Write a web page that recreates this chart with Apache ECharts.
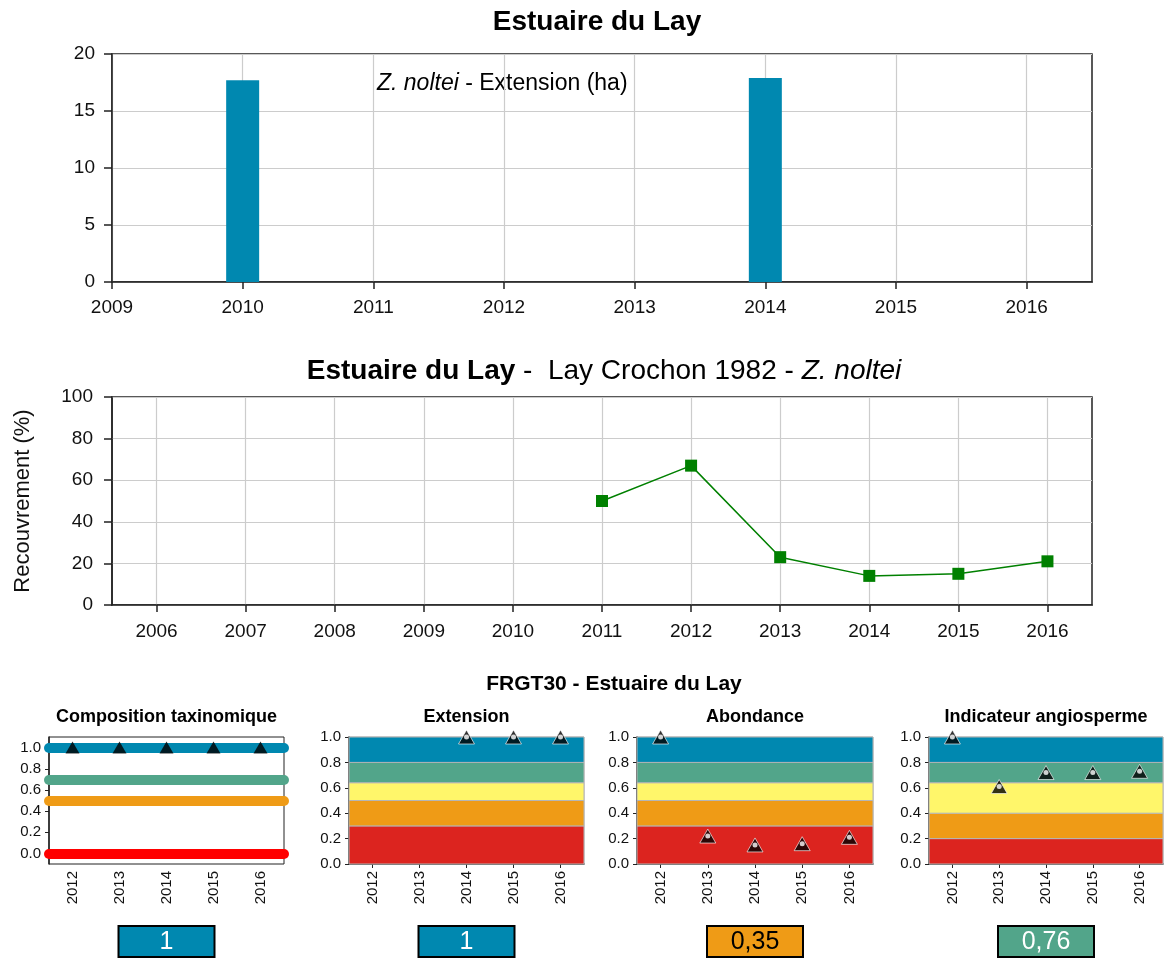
<!DOCTYPE html>
<html>
<head>
<meta charset="utf-8">
<title>Estuaire du Lay</title>
<script src="https://cdn.jsdelivr.net/npm/echarts@6/dist/echarts.min.js"></script>
<style>
  html, body { margin: 0; padding: 0; background: #fff; }
  #chart { width: 1164px; height: 958px; }
</style>
</head>
<body>
<div id="chart"></div>
<script>
// Z. noltei - Extension (ha)
const extYears = [2010, 2014]
const extValues = [17.7, 17.9]
const extTicks = [2009, 2010, 2011, 2012, 2013, 2014, 2015, 2016]

// Lay Crochon 1982 - Recouvrement (%)
const coverYears = [2006, 2007, 2008, 2009, 2010, 2011, 2012, 2013, 2014, 2015, 2016]
const coverValues = [null, null, null, null, null, 50, 67, 23, 14, 15, 21]

// FRGT30 - indicateurs
const panelYears = ['2012', '2013', '2014', '2015', '2016']
const panelTitles = ['Composition taxinomique', 'Extension', 'Abondance', 'Indicateur angiosperme']
const compoValues = [1, 1, 1, 1, 1]
const compoThresholds = [1.0, 0.7, 0.5, 0.0]
const extensionValues = [null, null, 1, 1, 1]
const abondanceValues = [1, 0.22, 0.15, 0.16, 0.21]
const angioValues = [1, 0.61, 0.72, 0.72, 0.73]
const bandLimits = [0, 0.3, 0.5, 0.64, 0.8, 1]
const angioBandLimits = [0, 0.2, 0.4, 0.64, 0.8, 1]
const panelTicks = [0, 0.2, 0.4, 0.6, 0.8, 1.0]
const boxLabels = ['1', '1', '0,35', '0,76']

const FONT = '"Liberation Sans", Arial, sans-serif'
const BLUE = '#0088b0'
const TEAL = '#52a58a'
const YELLOW = '#fff66a'
const ORANGE = '#ef9b16'
const RED = '#dc241f'
const bandColors = [RED, ORANGE, YELLOW, TEAL, BLUE]
const compoColors = [BLUE, TEAL, ORANGE, '#ff0000']
const boxColors = [BLUE, BLUE, ORANGE, TEAL]
const boxTextColors = ['#fff', '#fff', '#000', '#fff']
const AXIS = '#222'
const GRIDLINE = '#cccccc'

// positions des 4 petits panneaux
const panels = [
  { left: 49, width: 235 },
  { left: 349, width: 235 },
  { left: 637, width: 236 },
  { left: 929, width: 234 }
]
const panelTop = 737
const panelHeight = 127

const chart = echarts.init(document.getElementById('chart'), null, { renderer: 'canvas' })

const bigGridBase = { containLabel: false, outerBoundsMode: 'none', show: true, borderColor: AXIS, borderWidth: 1.5 }

const grids = [
  { ...bigGridBase, left: 112, top: 54, width: 980, height: 228 },
  { ...bigGridBase, left: 112, top: 397, width: 980, height: 208 }
]
panels.forEach((p, i) => {
  grids.push({
    containLabel: false,
    outerBoundsMode: 'none',
    left: p.left,
    top: panelTop,
    width: p.width,
    height: panelHeight,
    show: true,
    borderColor: i === 0 ? AXIS : '#aaaaaa',
    borderWidth: 1
  })
})

const bigLabel = { color: '#111', fontSize: 19, fontFamily: FONT }
const smallLabel = { color: '#111', fontSize: 15, fontFamily: FONT }

const xAxes = [
  {
    gridIndex: 0, type: 'value', min: 2009, max: 2016.5,
    axisLine: { show: true, lineStyle: { color: AXIS, width: 1.5 } },
    axisTick: { show: true, length: 7, lineStyle: { color: AXIS, width: 1.5 }, customValues: extTicks },
    axisLabel: { ...bigLabel, margin: 16, customValues: extTicks, formatter: v => String(v) },
    splitLine: { show: true, lineStyle: { color: GRIDLINE, width: 1.2 } }
  },
  {
    gridIndex: 1, type: 'value', min: 2005.5, max: 2016.5,
    axisLine: { show: true, lineStyle: { color: AXIS, width: 1.5 } },
    axisTick: { show: true, length: 7, lineStyle: { color: AXIS, width: 1.5 }, customValues: coverYears },
    axisLabel: { ...bigLabel, margin: 17, customValues: coverYears, formatter: v => String(v) },
    splitLine: { show: true, lineStyle: { color: GRIDLINE, width: 1.2 } }
  }
]
const yAxes = [
  {
    gridIndex: 0, type: 'value', min: 0, max: 20, interval: 5,
    axisLine: { show: true, lineStyle: { color: AXIS, width: 1.5 } },
    axisTick: { show: true, length: 8, lineStyle: { color: AXIS, width: 1.5 } },
    axisLabel: { ...bigLabel, margin: 17 },
    splitLine: { show: true, lineStyle: { color: GRIDLINE, width: 1.2 } }
  },
  {
    gridIndex: 1, type: 'value', min: 0, max: 100, interval: 20,
    name: 'Recouvrement (%)', nameLocation: 'middle', nameGap: 78,
    nameTextStyle: { color: '#111', fontSize: 22, fontFamily: FONT },
    axisLine: { show: true, lineStyle: { color: AXIS, width: 1.5 } },
    axisTick: { show: true, length: 8, lineStyle: { color: AXIS, width: 1.5 } },
    axisLabel: { ...bigLabel, margin: 19 },
    splitLine: { show: true, lineStyle: { color: GRIDLINE, width: 1.2 } }
  }
]

panels.forEach((p, i) => {
  const g = i + 2
  xAxes.push({
    gridIndex: g, type: 'category', data: panelYears, boundaryGap: true,
    axisLine: { show: true, lineStyle: { color: AXIS, width: 1.5 } },
    axisTick: { show: true, alignWithLabel: true, length: 4, lineStyle: { color: AXIS } },
    axisLabel: { ...smallLabel, rotate: 90, margin: 7 },
    splitLine: { show: false }
  })
  const yAx = {
    gridIndex: g, type: 'value',
    axisLine: { show: true, lineStyle: { color: AXIS, width: 1.5 } },
    axisTick: { show: true, length: 4, lineStyle: { color: AXIS } },
    axisLabel: { ...smallLabel, margin: 8, formatter: v => v.toFixed(1) },
    splitLine: { show: false }
  }
  if (i === 0) {
    yAx.min = -0.1
    yAx.max = 1.1
    yAx.axisLabel.customValues = panelTicks
    yAx.axisTick.customValues = panelTicks
  } else {
    yAx.min = 0
    yAx.max = 1
    yAx.interval = 0.2
  }
  yAxes.push(yAx)
})

// bandes de qualité
const makeBands = limits => limits.slice(0, -1).map((lo, k) => [
  { yAxis: lo, itemStyle: { color: bandColors[k], borderColor: '#b5b5b5', borderWidth: 1 } },
  { yAxis: limits[k + 1] }
])

const triangleSeries = (g, values, bands) => {
  const s = [{
    type: 'scatter', xAxisIndex: g, yAxisIndex: g, z: 10,
    symbol: 'triangle', symbolSize: [16, 14],
    itemStyle: { color: '#000', borderColor: '#fff', borderWidth: 0.8 },
    data: values.map(v => (v === null ? '-' : v)),
    silent: true
  }, {
    type: 'scatter', xAxisIndex: g, yAxisIndex: g, z: 11,
    symbol: 'circle', symbolSize: 5,
    itemStyle: { color: '#fff' },
    data: values.map(v => (v === null ? '-' : v)),
    silent: true
  }]
  s[0].markArea = { silent: true, z: 1, data: makeBands(bands) }
  return s
}

const series = [
  {
    type: 'bar', xAxisIndex: 0, yAxisIndex: 0,
    barWidth: 33,
    itemStyle: { color: BLUE },
    data: extYears.map((y, i) => [y, extValues[i]])
  },
  {
    type: 'line', xAxisIndex: 1, yAxisIndex: 1,
    symbol: 'rect', symbolSize: 12,
    lineStyle: { color: '#008000', width: 1.5 },
    itemStyle: { color: '#008000' },
    data: coverYears.map((y, i) => [y, coverValues[i]]).filter(d => d[1] !== null)
  },
  {
    type: 'scatter', xAxisIndex: 2, yAxisIndex: 2, z: 10,
    symbol: 'triangle', symbolSize: [14, 12],
    itemStyle: { color: '#000' },
    data: compoValues,
    markLine: {
      silent: true, symbol: 'none', z: 3,
      label: { show: false },
      data: compoThresholds.map((v, i) => ({
        yAxis: v,
        lineStyle: { color: compoColors[i], width: 10, type: 'solid', cap: 'round' }
      }))
    }
  },
  ...triangleSeries(3, extensionValues, bandLimits),
  ...triangleSeries(4, abondanceValues, bandLimits),
  ...triangleSeries(5, angioValues, angioBandLimits)
]

// textes et cadres de valeurs
const graphics = [
  {
    type: 'text', x: 597, y: 22,
    style: { text: 'Estuaire du Lay', font: 'bold 28px ' + FONT, fill: '#000',
      align: 'center', verticalAlign: 'middle', textAlign: 'center', textVerticalAlign: 'middle' }
  },
  {
    type: 'text', x: 377, y: 84,
    style: {
      text: '{i|Z. noltei} - Extension (ha)', font: '23px ' + FONT, fill: '#000',
      align: 'left', verticalAlign: 'middle', textAlign: 'left', textVerticalAlign: 'middle',
      rich: { i: { fontStyle: 'italic', fontSize: 23, fontFamily: FONT, fill: '#000' } }
    }
  },
  {
    type: 'text', x: 604, y: 371,
    style: {
      text: '{b|Estuaire du Lay} -  Lay Crochon 1982 - {i|Z. noltei}', font: '28px ' + FONT, fill: '#000',
      align: 'center', verticalAlign: 'middle', textAlign: 'center', textVerticalAlign: 'middle',
      rich: {
        b: { fontWeight: 'bold', fontSize: 28, fontFamily: FONT, fill: '#000' },
        i: { fontStyle: 'italic', fontSize: 28, fontFamily: FONT, fill: '#000' }
      }
    }
  },
  {
    type: 'text', x: 614, y: 684,
    style: { text: 'FRGT30 - Estuaire du Lay', font: 'bold 21px ' + FONT, fill: '#000',
      align: 'center', verticalAlign: 'middle', textAlign: 'center', textVerticalAlign: 'middle' }
  }
]

panels.forEach((p, i) => {
  const cx = p.left + p.width / 2
  graphics.push({
    type: 'text', x: cx, y: 717,
    style: { text: panelTitles[i], font: 'bold 18px ' + FONT, fill: '#000',
      align: 'center', verticalAlign: 'middle', textAlign: 'center', textVerticalAlign: 'middle' }
  })
  graphics.push({
    type: 'rect',
    shape: { x: cx - 48, y: 926, width: 96, height: 31 },
    style: { fill: boxColors[i], stroke: '#000', lineWidth: 2 }
  })
  graphics.push({
    type: 'text', x: cx, y: 942,
    style: { text: boxLabels[i], font: '25px ' + FONT, fill: boxTextColors[i],
      align: 'center', verticalAlign: 'middle', textAlign: 'center', textVerticalAlign: 'middle' }
  })
})

const option = {
  animation: false,
  backgroundColor: '#fff',
  textStyle: { fontFamily: FONT },
  grid: grids,
  xAxis: xAxes,
  yAxis: yAxes,
  series: series,
  graphic: graphics
}

chart.setOption(option)
window.addEventListener('resize', () => chart.resize())
</script>
</body>
</html>
